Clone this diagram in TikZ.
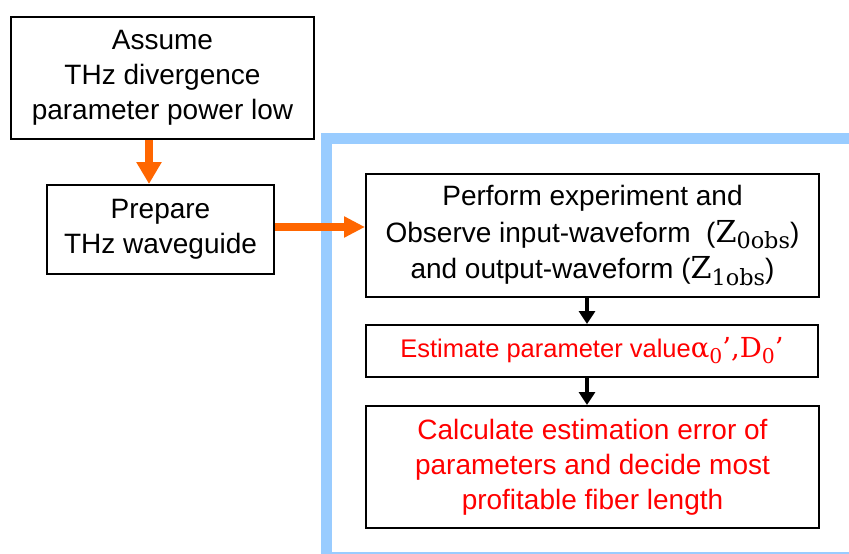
\documentclass[tikz,border=0pt]{standalone}
\usepackage{fontspec}
\setmainfont{Liberation Sans}
\newfontfamily\serifpart[Scale=1.08]{DejaVu Serif}
\usetikzlibrary{arrows.meta}
\definecolor{frameblue}{HTML}{99CCFF}
\definecolor{floworange}{HTML}{FF6600}
\tikzset{
  stepbox/.style={draw=black, line width=2pt, fill=white, align=center,
    inner sep=0pt, font=\fontsize{28}{35}\selectfont},
  redtext/.style={text=red},
  orangearrow/.style={draw=floworange, line width=8pt,
    -{Triangle[width=24pt,length=22pt]}},
  blackarrow/.style={draw=black, line width=4pt,
    -{Triangle[width=16pt,length=13pt]}}
}
% serif symbol with a lowered, reduced index
\newcommand{\lowidx}[1]{\raisebox{-0.22em}{\scalebox{0.74}{#1}}}
\newcommand{\obsvar}[2]{{\serifpart #1\lowidx{#2}}}
\begin{document}
\begin{tikzpicture}[x=1pt,y=-1pt]
\useasboundingbox (0,0) rectangle (849,554);
\fill[white] (0,0) rectangle (849,554);

% light-blue frame around the experiment steps (runs off the right and bottom)
\begin{scope}
  \clip (0,0) rectangle (849,554);
  \draw[frameblue, line width=11pt] (326.5,138.5) rectangle (880,557);
\end{scope}

% left column
\node[stepbox, minimum width=303pt, minimum height=122pt] (assume) at (162.5,78)
  {Assume\\THz divergence\\parameter power low};
\node[stepbox, minimum width=227pt, minimum height=89pt] (prepare) at (160.5,229.5)
  {Prepare\\THz waveguide};

% right column
\node[stepbox, font=\fontsize{28}{36.5}\selectfont, minimum width=453pt, minimum height=123pt] (perform) at (592.5,235.5)
  {Perform experiment and\\Observe input-waveform\ \ ({\serifpart\obsvar{Z}{0obs}})\\and output-waveform ({\serifpart\obsvar{Z}{1obs}})};
\node[stepbox, redtext, font=\fontsize{25.5}{31}\selectfont, minimum width=452pt, minimum height=52pt] (estimate) at (592,351)
  {Estimate parameter value{\serifpart α\lowidx{0}’,D\lowidx{0}’}};
\node[stepbox, redtext, minimum width=453pt, minimum height=122pt] (calc) at (592.5,467)
  {Calculate estimation error of\\parameters and decide most\\profitable fiber length};

% connectors
\coordinate (vx) at (149,0);
\coordinate (bx) at (587,0);
\draw[orangearrow] (assume.south -| vx) -- (prepare.north -| vx);
\draw[orangearrow, -{Triangle[width=20pt,length=21pt]}]
  ([yshift=2.5pt]prepare.east) -- ([yshift=2.5pt]prepare.east -| perform.west);
\draw[blackarrow] (perform.south -| bx) -- (estimate.north -| bx);
\draw[blackarrow] (estimate.south -| bx) -- (calc.north -| bx);
\end{tikzpicture}
\end{document}
